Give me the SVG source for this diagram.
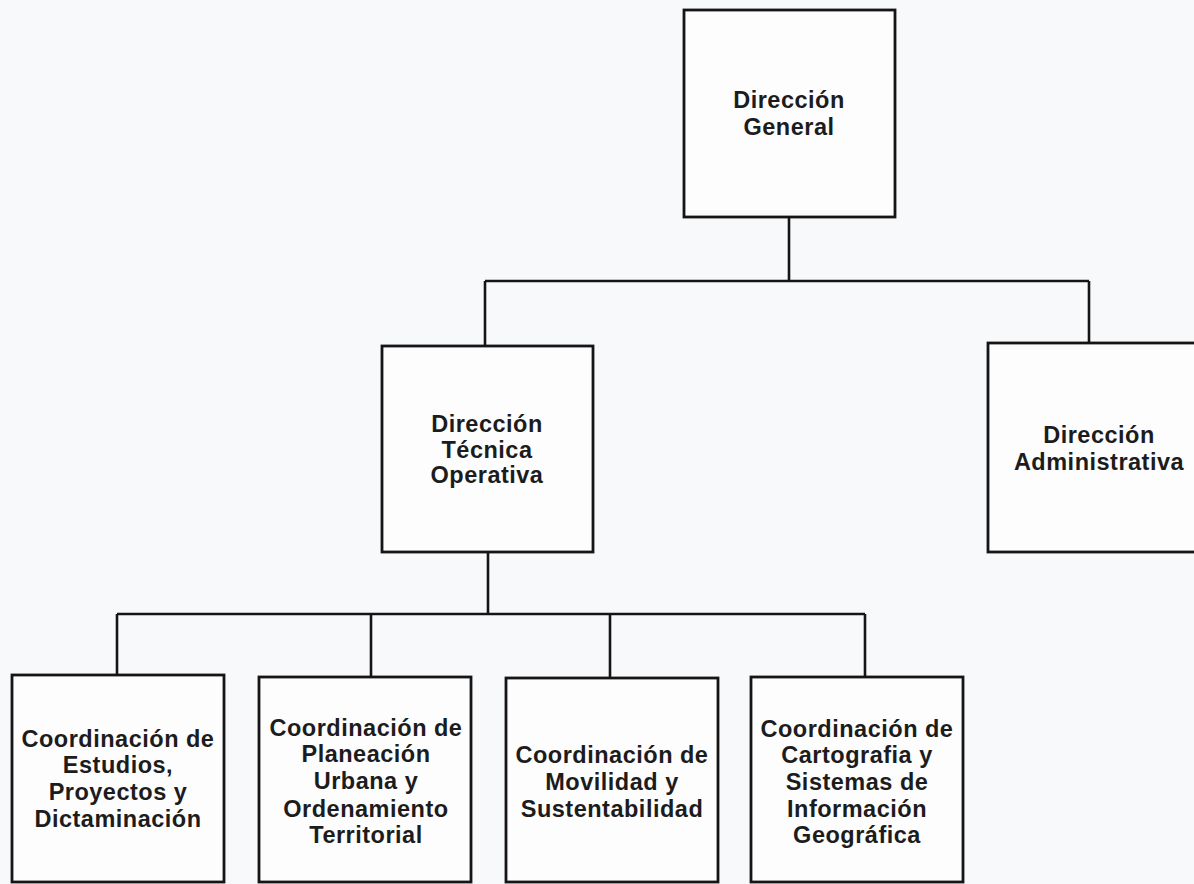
<svg xmlns="http://www.w3.org/2000/svg" width="1194" height="884" viewBox="0 0 1194 884">
<style>
.box{fill:#fdfdfe;stroke:#151515;stroke-width:2.8}
.lbl{font-family:"Liberation Sans",Arial,sans-serif;font-weight:bold;font-size:23.5px;letter-spacing:0.5px;fill:#1c1c1c;text-anchor:middle}
.con{fill:none;stroke:#151515;stroke-width:2.6}
</style>
<rect x="0" y="0" width="1194" height="884" fill="#f8f9fb"/>
<g id="connectors" class="con">
<path d="M789,217 V281 M485,281 H1089 M485,281 V346 M1089,281 V343"/>
<path d="M488,552 V614 M117,614 H865 M117,614 V675 M371,614 V677 M610,614 V678 M865,614 V677"/>
</g>
<g id="direccion-general">
<rect class="box" x="684" y="10" width="211" height="207"/>
<text class="lbl" x="789" y="108">Dirección</text>
<text class="lbl" x="789" y="135">General</text>
</g>
<g id="direccion-tecnica">
<rect class="box" x="382" y="346" width="211" height="206"/>
<text class="lbl" x="487" y="432">Dirección</text>
<text class="lbl" x="487" y="458">Técnica</text>
<text class="lbl" x="487" y="483">Operativa</text>
</g>
<g id="direccion-administrativa">
<rect class="box" x="988" y="343" width="220" height="209"/>
<text class="lbl" x="1099" y="443">Dirección</text>
<text class="lbl" x="1099" y="470">Administrativa</text>
</g>
<g id="coord-estudios">
<rect class="box" x="12" y="675" width="212" height="207"/>
<text class="lbl" x="118" y="747">Coordinación de</text>
<text class="lbl" x="118" y="773">Estudios,</text>
<text class="lbl" x="118" y="800">Proyectos y</text>
<text class="lbl" x="118" y="827">Dictaminación</text>
</g>
<g id="coord-planeacion">
<rect class="box" x="259" y="677" width="212" height="205"/>
<text class="lbl" x="366" y="736">Coordinación de</text>
<text class="lbl" x="366" y="762">Planeación</text>
<text class="lbl" x="366" y="789">Urbana y</text>
<text class="lbl" x="366" y="817">Ordenamiento</text>
<text class="lbl" x="366" y="843">Territorial</text>
</g>
<g id="coord-movilidad">
<rect class="box" x="506" y="678" width="212" height="204"/>
<text class="lbl" x="612" y="763">Coordinación de</text>
<text class="lbl" x="612" y="790">Movilidad y</text>
<text class="lbl" x="612" y="817">Sustentabilidad</text>
</g>
<g id="coord-cartografia">
<rect class="box" x="751" y="677" width="212" height="205"/>
<text class="lbl" x="857" y="737">Coordinación de</text>
<text class="lbl" x="857" y="763">Cartografia y</text>
<text class="lbl" x="857" y="790">Sistemas de</text>
<text class="lbl" x="857" y="817">Información</text>
<text class="lbl" x="857" y="843">Geográfica</text>
</g>
</svg>
